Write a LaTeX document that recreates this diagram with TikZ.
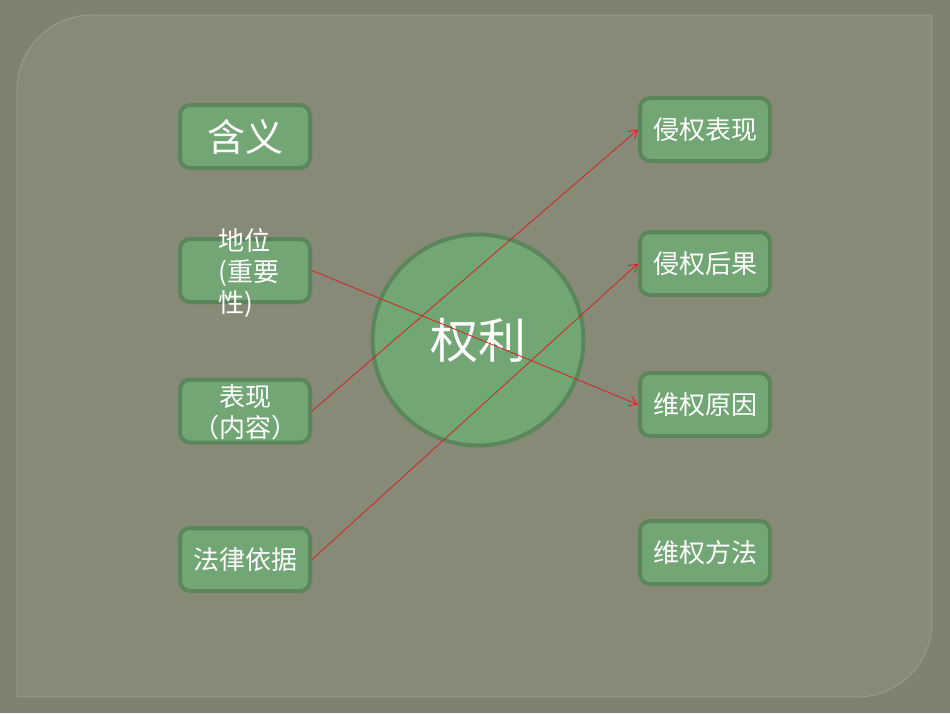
\documentclass[tikz,border=0pt]{standalone}
\usepackage{fontspec}
\setmainfont{Noto Sans CJK SC}
\usepackage{tikz}
\usetikzlibrary{arrows.meta,positioning}
\definecolor{outerbg}{HTML}{7F8270}
\definecolor{panelbg}{HTML}{878A77}
\definecolor{panelrim}{HTML}{9C9F8C}
\definecolor{boxfill}{HTML}{72A674}
\definecolor{boxrim}{HTML}{5B865B}
\definecolor{linkred}{HTML}{D42222}

\begin{document}
\begin{tikzpicture}[x=1pt, y=-1pt,
        topic/.style={draw=boxrim, line width=4pt, fill=boxfill, rounded corners=10pt,
            minimum width=130pt, minimum height=63pt, inner sep=0pt,
            text=white, font=\fontsize{26}{30}\selectfont},
        centre/.style={circle, draw=boxrim, line width=4pt, fill=boxfill,
            minimum size=211pt, inner sep=0pt,
            text=white, font=\fontsize{48}{56}\selectfont},
        words/.style={text=white, font=\fontsize{26}{31}\selectfont, inner sep=0pt},
        link/.style={draw=linkred, line width=0.8pt, -{Straight Barb[length=8pt,width=10pt]}}]
        \useasboundingbox (0,0) rectangle (950,713);
        \fill[outerbg] (0,0) rectangle (950,713);
        % panel with two rounded corners
        \filldraw[fill=panelbg, draw=panelrim, line width=0.8pt]
            (17,90) .. controls (17,48.6) and (50.6,15) .. (92,15) -- (932,15)
            -- (932,622) .. controls (932,663.4) and (898.4,697) .. (857,697)
            -- (17,697) -- cycle;

        \node[centre] (quanli) at (478,340) {\raisebox{-3pt}{权利}};

        % left column
        \node[topic, font=\fontsize{38}{44}\selectfont] (hanyi) at (245,136.5) {含义};
        \node[topic] (diwei) at (245,270.5) {};
        \node[words, align=left] at ([xshift=4pt,yshift=-3pt]diwei.center) {地位\\(重要\\性)};
        \node[topic] (biaoxian) at (245,411) {};
        \node[words, align=center] at ([yshift=-1pt]biaoxian.center) {表现\\（内容）};
        \node[topic] (falv) at (245,559.5) {法律依据};

        % right column
        \node[topic] (qinquanbx) at (705,129.5) {侵权表现};
        \node[topic] (qinquanhg) at (705,263.5) {侵权后果};
        \node[topic] (weiquanyy) at (705,404.5) {维权原因};
        \node[topic] (weiquanff) at (705,552.5) {维权方法};

        \draw[link] (diwei.east) -- (weiquanyy.west);
        \draw[link] (biaoxian.east) -- (qinquanbx.west);
        \draw[link] (falv.east) -- (qinquanhg.west);
    \end{tikzpicture}
\end{document}
